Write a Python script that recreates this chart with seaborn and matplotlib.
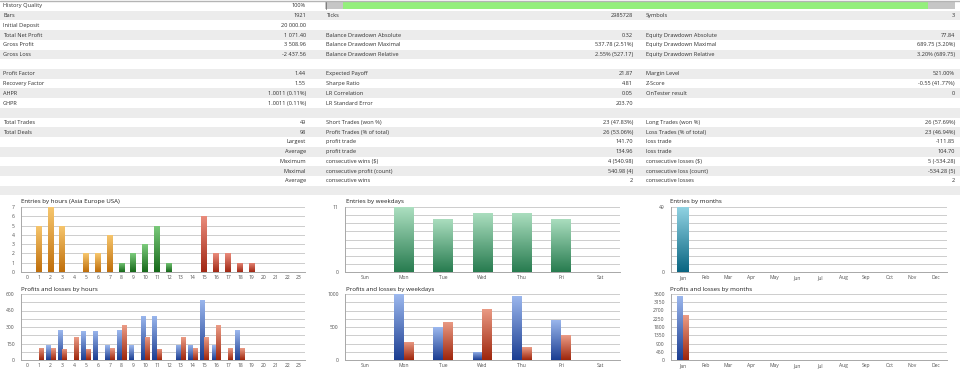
import numpy as np
import pandas as pd
import matplotlib
matplotlib.use("Agg")
import matplotlib.pyplot as plt
import seaborn as sns
from matplotlib.colors import LinearSegmentedColormap
from matplotlib.patches import Rectangle

# ---- report table ----
col1_labels = ["History Quality", "Bars", "Initial Deposit", "Total Net Profit", "Gross Profit", "Gross Loss", "",
               "Profit Factor", "Recovery Factor", "AHPR", "GHPR", "", "Total Trades", "Total Deals",
               "", "", "", "", "", ""]
col1_values = ["100%", "1921", "20 000.00", "1 071.40", "3 508.96", "-2 437.56", "",
               "1.44", "1.55", "1.0011 (0.11%)", "1.0011 (0.11%)", "", "49", "98",
               "Largest", "Average", "Maximum", "Maximal", "Average", ""]
col2_labels = ["", "Ticks", "", "Balance Drawdown Absolute", "Balance Drawdown Maximal", "Balance Drawdown Relative", "",
               "Expected Payoff", "Sharpe Ratio", "LR Correlation", "LR Standard Error", "",
               "Short Trades (won %)", "Profit Trades (% of total)", "profit trade", "profit trade",
               "consecutive wins ($)", "consecutive profit (count)", "consecutive wins", ""]
col2_values = ["", "2985728", "", "0.32", "537.78 (2.51%)", "2.55% (527.17)", "",
               "21.87", "4.81", "0.05", "203.70", "",
               "23 (47.83%)", "26 (53.06%)", "141.70", "134.96", "4 (540.98)", "540.98 (4)", "2", ""]
col3_labels = ["", "Symbols", "", "Equity Drawdown Absolute", "Equity Drawdown Maximal", "Equity Drawdown Relative", "",
               "Margin Level", "Z-Score", "OnTester result", "", "",
               "Long Trades (won %)", "Loss Trades (% of total)", "loss trade", "loss trade",
               "consecutive losses ($)", "consecutive loss (count)", "consecutive losses", ""]
col3_values = ["", "3", "", "77.84", "689.75 (3.20%)", "3.20% (689.75)", "",
               "521.00%", "-0.55 (41.77%)", "0", "", "",
               "26 (57.69%)", "23 (46.94%)", "-111.85", "104.70", "5 (-534.28)", "-534.28 (5)", "2", ""]

# ---- chart data ----
hours = [str(h) for h in range(24)]
hour_entries = [0, 5, 7, 5, 0, 2, 2, 4, 1, 2, 3, 5, 1, 0, 0, 6, 2, 2, 1, 1, 0, 0, 0, 0]
hour_session = ["Asia"] * 8 + ["Europe"] * 7 + ["USA"] * 9
hour_profit = [0, 0, 135, 272, 0, 260, 266, 135, 272, 132, 401, 404, 0, 138, 138, 548, 132, 0, 272, 0, 0, 0, 0, 0]
hour_loss = [0, 113, 107, 104, 205, 104, 0, 107, 315, 0, 211, 101, 0, 205, 107, 205, 315, 107, 107, 0, 0, 0, 0, 0]

weekdays = ["Sun", "Mon", "Tue", "Wed", "Thu", "Fri", "Sat"]
weekday_entries = [0, 11, 9, 10, 10, 9, 0]
weekday_profit = [0, 1000, 500, 128, 974, 612, 0]
weekday_loss = [0, 275, 582, 776, 194, 378, 0]

months = ["Jan", "Feb", "Mar", "Apr", "May", "Jun", "Jul", "Aug", "Sep", "Oct", "Nov", "Dec"]
month_entries = [49, 0, 0, 0, 0, 0, 0, 0, 0, 0, 0, 0]
month_profit = [3508.96, 0, 0, 0, 0, 0, 0, 0, 0, 0, 0, 0]
month_loss = [2437.56, 0, 0, 0, 0, 0, 0, 0, 0, 0, 0, 0]

sns.set_style("white")
plt.rcParams["font.family"] = ["Open Sans", "DejaVu Sans"]

W, H = 960, 379
fig = plt.figure(figsize=(9.6, 3.79), dpi=100)
fig.patch.set_facecolor("white")


def place(l, t, r, b):
    return [l / W, 1 - b / H, (r - l) / W, (b - t) / H]


# table
tab = fig.add_axes([0, 0, 1, 1])
tab.set_xlim(0, W)
tab.set_ylim(H, 0)
tab.axis("off")
row_h = 9.72
y0 = 1.0
tab.plot([0, W], [0.5, 0.5], color="#b4b4b4", lw=1)
for i in range(len(col1_labels)):
    top = y0 + i * row_h
    if i % 2 == 1:
        tab.add_patch(Rectangle((0, top), W, row_h, color="#ececec", lw=0))
    yc = top + row_h / 2
    kw = dict(va="center", fontsize=4.1, color="#303030")
    tab.text(3, yc, col1_labels[i], ha="left", **kw)
    tab.text(306, yc, col1_values[i], ha="right", **kw)
    tab.text(326, yc, col2_labels[i], ha="left", **kw)
    tab.text(633, yc, col2_values[i], ha="right", **kw)
    tab.text(646, yc, col3_labels[i], ha="left", **kw)
    tab.text(955, yc, col3_values[i], ha="right", **kw)
# history quality bar
tab.add_patch(Rectangle((325, 1.8), 630, 7.6, color="#c6c6c6", lw=0))
tab.add_patch(Rectangle((343, 1.8), 585, 7.6, color="#94ef7c", lw=0))
tab.plot([325.5, 325.5], [1.8, 9.4], color="#707070", lw=0.6)


def gradient(ax, bars, top, bottom):
    cmap = LinearSegmentedColormap.from_list("g", [top, bottom])
    grad = np.linspace(0, 1, 64).reshape(-1, 1)
    for p in bars:
        h = p.get_height()
        if h <= 0:
            continue
        x, y, w = p.get_x(), p.get_y(), p.get_width()
        im = ax.imshow(grad, extent=(x, x + w, y, y + h), origin="upper", cmap=cmap,
                       aspect="auto", interpolation="bilinear", zorder=3)
        im.set_clip_path(p)
        p.set_facecolor("none")
        p.set_edgecolor("none")


def style(ax, ymax, labels, grid_n, between_ticks=False):
    n = len(ax.get_xticks())
    ax.set_xlim(-0.5, n - 0.5)
    ax.set_ylim(0, ymax)
    ax.set_yticks(labels)
    ax.set_yticklabels([str(int(v)) for v in labels])
    ax.set_yticks(np.linspace(0, ymax, grid_n + 1), minor=True)
    ax.yaxis.grid(True, which="both", color="#cdcdcd", lw=0.7)
    ax.set_axisbelow(True)
    for s in ["top", "right"]:
        ax.spines[s].set_visible(False)
    for s in ["left", "bottom"]:
        ax.spines[s].set_color("#a8a8a8")
        ax.spines[s].set_linewidth(0.7)
    ax.tick_params(axis="both", which="major", labelsize=3.6, labelcolor="#505050", pad=2.5)
    ax.tick_params(axis="y", which="both", length=2, color="#b0b0b0", width=0.5)
    ax.tick_params(axis="x", which="major", length=0)
    if between_ticks:
        ax.set_xticks(np.arange(n - 1) + 0.5, minor=True)
        ax.tick_params(axis="x", which="minor", length=2.5, color="#a8a8a8", width=0.6)
    else:
        ax.tick_params(axis="x", which="minor", length=0)
    ax.set_xlabel("")
    ax.set_ylabel("")


def title(x, y, text):
    fig.text(x / W, 1 - y / H, text, fontsize=4.4, color="#202020", ha="left", va="center")


# 1. entries by hours
ax1 = fig.add_axes(place(21, 207, 305, 272))
df_h = pd.DataFrame({"hour": hours, "entries": hour_entries, "session": hour_session})
sns.barplot(data=df_h, x="hour", y="entries", hue="session", hue_order=["Asia", "Europe", "USA"],
            dodge=False, width=0.5, palette=["#e0a040", "#40a040", "#d05040"], legend=False, ax=ax1)
for cont, (t, b) in zip(ax1.containers, [("#f7c76e", "#bf6e0a"), ("#7ccb7c", "#16691a"), ("#ea8c7c", "#a12814")]):
    gradient(ax1, cont, t, b)
style(ax1, 7, range(8), 7)
title(21, 201.5, "Entries by hours (Asia Europe USA)")

# 2. profits and losses by hours
ax2 = fig.add_axes(place(21, 294, 305, 360))
df_hp = pd.DataFrame({"hour": hours * 2, "value": hour_profit + hour_loss,
                      "kind": ["Profit"] * 24 + ["Loss"] * 24})
sns.barplot(data=df_hp, x="hour", y="value", hue="kind", width=0.8,
            palette=["#4060b0", "#c04030"], legend=False, ax=ax2)
gradient(ax2, ax2.containers[0], "#9cb8ee", "#1c3e92")
gradient(ax2, ax2.containers[1], "#eb9c86", "#9e260c")
style(ax2, 600, [0, 150, 300, 450, 600], 8)
title(21, 289.5, "Profits and losses by hours")

# 3. entries by weekdays
ax3 = fig.add_axes(place(345, 207, 620, 272))
sns.barplot(x=weekdays, y=weekday_entries, width=0.5, color="#60b080", ax=ax3)
gradient(ax3, ax3.containers[0], "#acdfc0", "#287c50")
style(ax3, 11, [0, 11], 8, between_ticks=True)
title(346, 201.5, "Entries by weekdays")

# 4. profits and losses by weekdays
ax4 = fig.add_axes(place(345, 294, 620, 360))
df_wp = pd.DataFrame({"day": weekdays * 2, "value": weekday_profit + weekday_loss,
                      "kind": ["Profit"] * 7 + ["Loss"] * 7})
sns.barplot(data=df_wp, x="day", y="value", hue="kind", width=0.5,
            palette=["#4060b0", "#c04030"], legend=False, ax=ax4)
gradient(ax4, ax4.containers[0], "#9cb8ee", "#1c3e92")
gradient(ax4, ax4.containers[1], "#eb9c86", "#9e260c")
style(ax4, 1000, [0, 500, 1000], 8, between_ticks=True)
title(346, 289.5, "Profits and losses by weekdays")

# 5. entries by months
ax5 = fig.add_axes(place(671, 207, 947, 272))
sns.barplot(x=months, y=month_entries, width=0.5, color="#3090b0", ax=ax5)
gradient(ax5, ax5.containers[0], "#90d2e2", "#0a6682")
style(ax5, 49, [0, 49], 8, between_ticks=True)
title(670, 201.5, "Entries by months")

# 6. profits and losses by months
ax6 = fig.add_axes(place(671, 294, 947, 360))
df_mp = pd.DataFrame({"month": months * 2, "value": month_profit + month_loss,
                      "kind": ["Profit"] * 12 + ["Loss"] * 12})
sns.barplot(data=df_mp, x="month", y="value", hue="kind", width=0.5,
            palette=["#4060b0", "#c04030"], legend=False, ax=ax6)
gradient(ax6, ax6.containers[0], "#9cb8ee", "#1c3e92")
gradient(ax6, ax6.containers[1], "#eb9c86", "#9e260c")
style(ax6, 3600, list(range(0, 3601, 450)), 8, between_ticks=True)
title(670, 289.5, "Profits and losses by months")

fig.savefig("out.png", dpi=100)
